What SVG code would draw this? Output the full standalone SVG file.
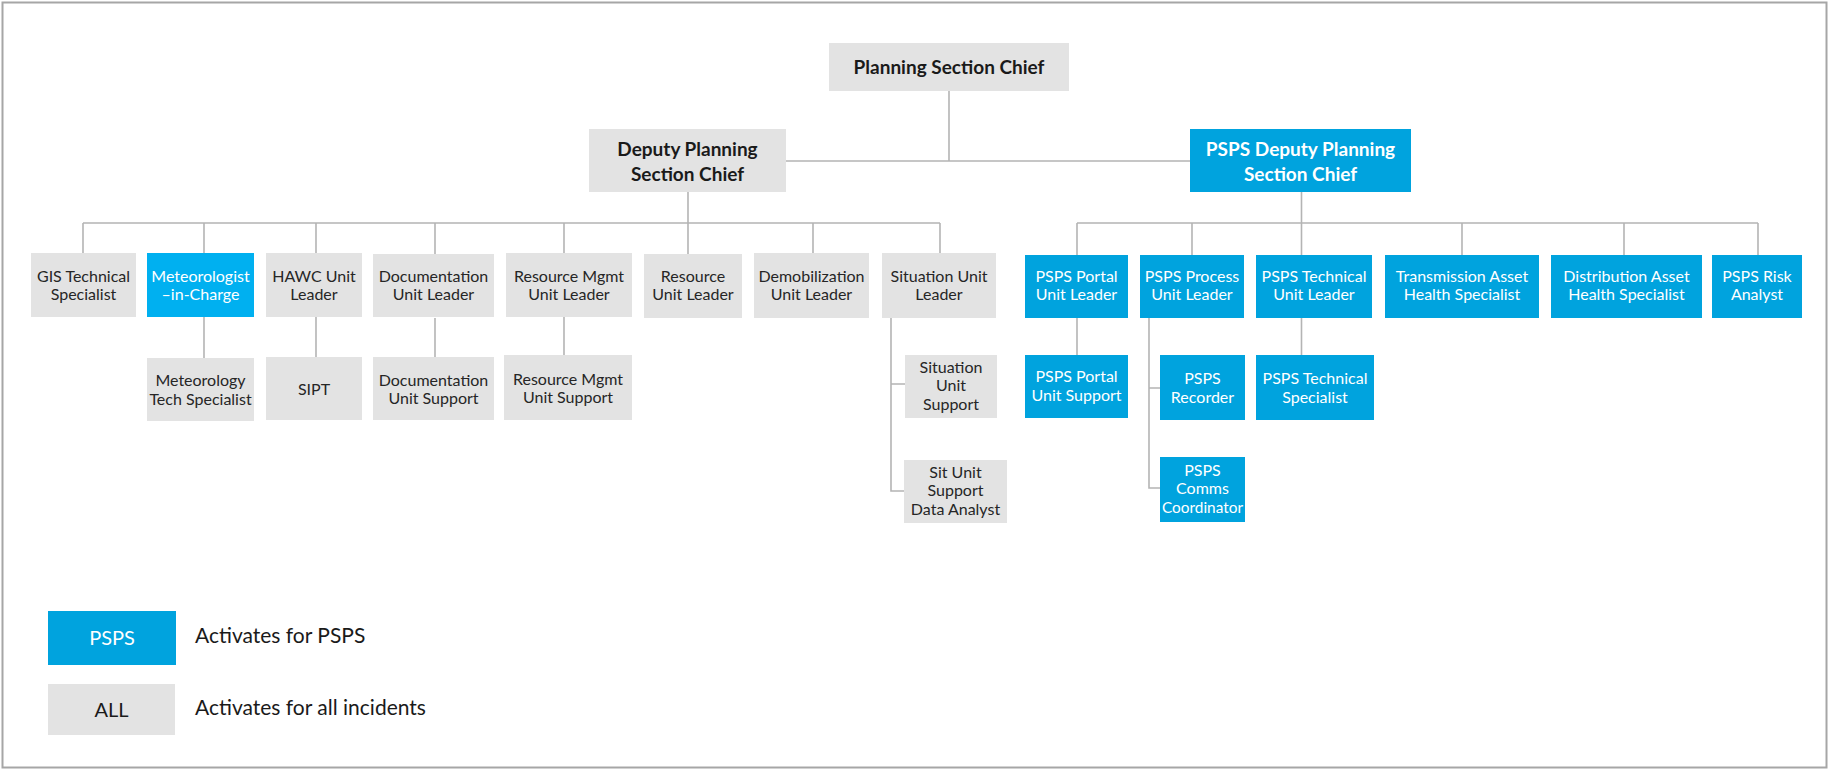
<svg xmlns="http://www.w3.org/2000/svg" width="1829" height="770" viewBox="0 0 1829 770">
<style>
text{font-family:Lato,"Open Sans","Liberation Sans",sans-serif;text-anchor:middle}
.g{fill:#e3e3e3}
.b{fill:#00a3de}
.bb{fill:#00b0f0}
.t{font-size:16px;fill:#262626}
.tw{font-size:16px;fill:#ffffff}
.h{font-size:19px;font-weight:bold;fill:#1a1a1a}
.hw{font-size:19px;font-weight:bold;fill:#ffffff}
.lg{font-size:21px;fill:#1a1a1a;text-anchor:start}
.conn path{fill:none;stroke:#b4b4b4;stroke-width:1.6}
</style>
<rect x="2.5" y="2.5" width="1824" height="765" fill="#ffffff" stroke="#a6a6a6" stroke-width="2"/>
<g class="conn" id="connectors">
<path d="M949,91 V161 M786,161 H1190"/>
<path d="M688,192 V223 M83,223 H940 M83,223 V253 M204,223 V253 M316,223 V253 M435,223 V254 M564,223 V253 M688,223 V254 M813,223 V253 M940,223 V253"/>
<path d="M204,317 V358 M316,317 V357 M435,318 V357 M564,317 V355"/>
<path d="M891,318 V491 H904 M891,384 H905"/>
<path d="M1301.5,192 V223 M1077,223 H1758 M1077,223 V255 M1192,223 V255 M1301.5,223 V255 M1462,223 V255 M1624,223 V255 M1758,223 V255"/>
<path d="M1077,318 V355 M1301.5,318 V355 M1149,318 V488 H1160 M1149,388 H1160"/>
</g>
<g id="n-planning"><rect class="g" x="829" y="43" width="240" height="48"/><text class="h" x="949" y="74">Planning Section Chief</text></g>
<g id="n-deputy"><rect class="g" x="589" y="129" width="197" height="63"/><text class="h" x="687.5" y="156">Deputy Planning</text><text class="h" x="687.5" y="181">Section Chief</text></g>
<g id="n-pspsdeputy"><rect class="b" x="1190" y="129" width="221" height="63"/><text class="hw" x="1300.5" y="156">PSPS Deputy Planning</text><text class="hw" x="1300.5" y="181">Section Chief</text></g>

<g id="n-gis"><rect class="g" x="31" y="253" width="105" height="64"/><text class="t" x="83.5" y="281.5">GIS Technical</text><text class="t" x="83.5" y="300">Specialist</text></g>
<g id="n-met"><rect class="bb" x="147" y="253" width="107" height="64"/><text class="tw" x="200.5" y="281.5">Meteorologist</text><text class="tw" x="200.5" y="300">–in-Charge</text></g>
<g id="n-hawc"><rect class="g" x="266" y="253" width="96" height="64"/><text class="t" x="314" y="281.5">HAWC Unit</text><text class="t" x="314" y="300">Leader</text></g>
<g id="n-doc"><rect class="g" x="373" y="254" width="121" height="63"/><text class="t" x="433.5" y="281.5">Documentation</text><text class="t" x="433.5" y="300">Unit Leader</text></g>
<g id="n-resmgmt"><rect class="g" x="506" y="253" width="126" height="64"/><text class="t" x="569" y="281.5">Resource Mgmt</text><text class="t" x="569" y="300">Unit Leader</text></g>
<g id="n-resource"><rect class="g" x="644" y="254" width="98" height="64"/><text class="t" x="693" y="281.5">Resource</text><text class="t" x="693" y="300">Unit Leader</text></g>
<g id="n-demob"><rect class="g" x="754" y="253" width="115" height="65"/><text class="t" x="811.5" y="281.5">Demobilization</text><text class="t" x="811.5" y="300">Unit Leader</text></g>
<g id="n-situation"><rect class="g" x="882" y="253" width="114" height="65"/><text class="t" x="939" y="281.5">Situation Unit</text><text class="t" x="939" y="300">Leader</text></g>

<g id="n-mettech"><rect class="g" x="147" y="358" width="107" height="63"/><text class="t" x="200.5" y="386">Meteorology</text><text class="t" x="200.5" y="404.5">Tech Specialist</text></g>
<g id="n-sipt"><rect class="g" x="266" y="357" width="96" height="63"/><text class="t" x="314" y="394.5">SIPT</text></g>
<g id="n-docsupport"><rect class="g" x="373" y="357" width="121" height="63"/><text class="t" x="433.5" y="385.5">Documentation</text><text class="t" x="433.5" y="404">Unit Support</text></g>
<g id="n-resmgmtsupport"><rect class="g" x="504" y="355" width="128" height="65"/><text class="t" x="568" y="384.5">Resource Mgmt</text><text class="t" x="568" y="403">Unit Support</text></g>
<g id="n-sitsupport"><rect class="g" x="905" y="355" width="92" height="63"/><text class="t" x="951" y="372.5">Situation</text><text class="t" x="951" y="391.2">Unit</text><text class="t" x="951" y="410">Support</text></g>
<g id="n-sitdata"><rect class="g" x="904" y="460" width="103" height="63"/><text class="t" x="955.5" y="477.5">Sit Unit</text><text class="t" x="955.5" y="496.2">Support</text><text class="t" x="955.5" y="515">Data Analyst</text></g>

<g id="n-portal"><rect class="b" x="1025" y="255" width="103" height="63"/><text class="tw" x="1076.5" y="281.5">PSPS Portal</text><text class="tw" x="1076.5" y="300">Unit Leader</text></g>
<g id="n-process"><rect class="b" x="1140" y="255" width="104" height="63"/><text class="tw" x="1192" y="281.5">PSPS Process</text><text class="tw" x="1192" y="300">Unit Leader</text></g>
<g id="n-technical"><rect class="b" x="1256" y="255" width="116" height="63"/><text class="tw" x="1314" y="281.5">PSPS Technical</text><text class="tw" x="1314" y="300">Unit Leader</text></g>
<g id="n-transmission"><rect class="b" x="1385" y="255" width="154" height="63"/><text class="tw" x="1462" y="281.5">Transmission Asset</text><text class="tw" x="1462" y="300">Health Specialist</text></g>
<g id="n-distribution"><rect class="b" x="1551" y="255" width="151" height="63"/><text class="tw" x="1626.5" y="281.5">Distribution Asset</text><text class="tw" x="1626.5" y="300">Health Specialist</text></g>
<g id="n-risk"><rect class="b" x="1712" y="255" width="90" height="63"/><text class="tw" x="1757" y="281.5">PSPS Risk</text><text class="tw" x="1757" y="300">Analyst</text></g>

<g id="n-portalsupport"><rect class="b" x="1025" y="355" width="103" height="63"/><text class="tw" x="1076.5" y="382">PSPS Portal</text><text class="tw" x="1076.5" y="400.5">Unit Support</text></g>
<g id="n-recorder"><rect class="b" x="1160" y="355" width="85" height="65"/><text class="tw" x="1202.5" y="384">PSPS</text><text class="tw" x="1202.5" y="402.5">Recorder</text></g>
<g id="n-comms"><rect class="b" x="1160" y="457" width="85" height="65"/><text class="tw" x="1202.5" y="475.5">PSPS</text><text class="tw" x="1202.5" y="494.2">Comms</text><text class="tw" x="1202.5" y="513" textLength="81" lengthAdjust="spacingAndGlyphs">Coordinator</text></g>
<g id="n-techspecialist"><rect class="b" x="1256" y="355" width="118" height="65"/><text class="tw" x="1315" y="384">PSPS Technical</text><text class="tw" x="1315" y="402.5">Specialist</text></g>

<g id="legend-psps"><rect class="b" x="48" y="611" width="128" height="54"/><text x="112" y="645" style="font-size:20px;fill:#fff">PSPS</text><text class="lg" x="195" y="643">Activates for PSPS</text></g>
<g id="legend-all"><rect class="g" x="48" y="684" width="127" height="51"/><text x="111.5" y="717" style="font-size:20px;fill:#1a1a1a">ALL</text><text class="lg" x="195" y="715">Activates for all incidents</text></g>
</svg>
